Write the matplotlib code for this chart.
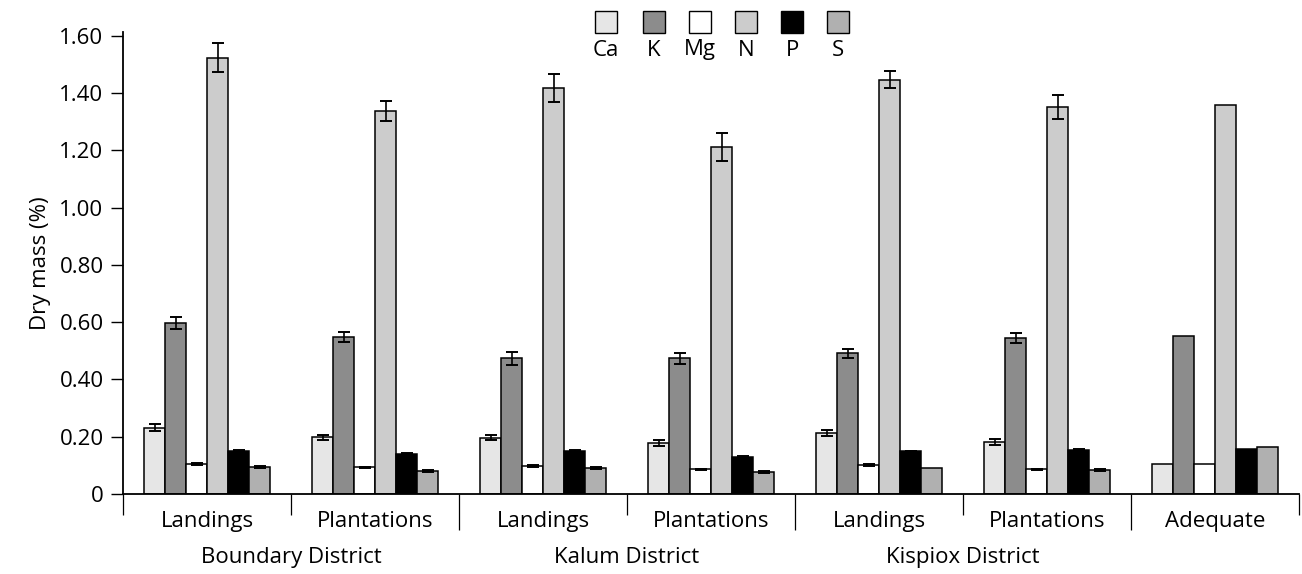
import matplotlib
matplotlib.use("Agg")
import matplotlib.pyplot as plt
from matplotlib.patches import Rectangle
import numpy as np

plt.rcParams['font.family'] = ['Open Sans', 'DejaVu Sans']

# Sites (sub-groups) and their districts
sites = ["Landings", "Plantations", "Landings", "Plantations",
         "Landings", "Plantations", "Adequate"]
districts = ["Boundary District", "Kalum District", "Kispiox District"]

nutrients = ["Ca", "K", "Mg", "N", "P", "S"]
colors = ["#e6e6e6", "#8c8c8c", "#ffffff", "#cccccc", "#000000", "#b0b0b0"]

# Foliar nutrient concentration (% dry mass), one list per site
ca = [0.232, 0.198, 0.197, 0.178, 0.212, 0.182, 0.104]
k = [0.598, 0.548, 0.474, 0.474, 0.492, 0.545, 0.551]
mg = [0.104, 0.093, 0.099, 0.087, 0.101, 0.087, 0.104]
n = [1.524, 1.338, 1.417, 1.213, 1.447, 1.352, 1.360]
p = [0.149, 0.139, 0.149, 0.130, 0.149, 0.154, 0.156]
s = [0.094, 0.080, 0.090, 0.077, 0.092, 0.084, 0.165]

# Standard errors (no error for the adequate reference levels)
ca_err = [0.012, 0.008, 0.008, 0.012, 0.010, 0.011, 0.0]
k_err = [0.020, 0.018, 0.023, 0.019, 0.016, 0.018, 0.0]
mg_err = [0.003, 0.003, 0.003, 0.002, 0.003, 0.002, 0.0]
n_err = [0.051, 0.036, 0.049, 0.049, 0.030, 0.043, 0.0]
p_err = [0.003, 0.003, 0.003, 0.003, 0.002, 0.003, 0.0]
s_err = [0.004, 0.004, 0.004, 0.004, 0.0, 0.004, 0.0]

yticks = [0, 0.2, 0.4, 0.6, 0.8, 1.0, 1.2, 1.4, 1.6]
ytick_labels = ["0", "0.20", "0.40", "0.60", "0.80", "1.00", "1.20", "1.40", "1.60"]

values = [ca, k, mg, n, p, s]
errors = [ca_err, k_err, mg_err, n_err, p_err, s_err]

FS = 16
W, H = 1302, 574
fig = plt.figure(figsize=(W / 100, H / 100), dpi=100)
ax = fig.add_axes([123 / W, (H - 494) / H, (1299 - 123) / W, (494 - 31.7) / H])

bar_w = 0.125
x0 = np.arange(len(sites))
for j, (vals, errs, col) in enumerate(zip(values, errors, colors)):
    xs = x0 + bar_w + bar_w / 2 + j * bar_w
    ax.bar(xs, vals, width=bar_w, color=col, edgecolor="black", linewidth=1.1, zorder=2)
    errs = np.array(errs)
    mask = errs > 0
    ax.errorbar(xs[mask], np.array(vals)[mask], yerr=errs[mask], fmt="none",
                ecolor="black", elinewidth=1.2, capsize=4, capthick=1.4, zorder=3)

ax.set_xlim(0, len(sites))
ax.set_ylim(0, 1.615)
ax.set_yticks(yticks)
ax.set_yticklabels(ytick_labels, fontsize=FS)
ax.tick_params(axis="y", direction="out", length=9, width=1, pad=5, colors="black")
ax.set_ylabel("Dry mass (%)", fontsize=FS, labelpad=6)

# Boundary marks below the axis: short between sites, long between districts
ax.set_xticks([0, 1, 3, 5, 7])
ax.set_xticks([2, 4, 6], minor=True)
ax.set_xticklabels([])
ax.tick_params(axis="x", which="major", direction="out", length=15, width=0.9)
ax.tick_params(axis="x", which="minor", direction="out", length=26, width=0.9)

for sp in ("top", "right"):
    ax.spines[sp].set_visible(False)
ax.spines["left"].set_linewidth(1.3)
ax.spines["bottom"].set_linewidth(1.3)

for i, name in enumerate(sites):
    ax.annotate(name, xy=(i + 0.5, 0), xycoords=("data", "axes fraction"),
                xytext=(0, -19.5), textcoords="offset points",
                ha="center", va="center", fontsize=FS)
for d, name in enumerate(districts):
    ax.annotate(name, xy=(2 * d + 1, 0), xycoords=("data", "axes fraction"),
                xytext=(0, -45.5), textcoords="offset points",
                ha="center", va="center", fontsize=FS)

# Legend: swatches in a row with their labels underneath
sw = 22
centers = [606, 654, 700, 746, 792, 838]
for cx, col, lab in zip(centers, colors, nutrients):
    fig.add_artist(Rectangle(((cx - sw / 2) / W, (H - 33) / H), sw / W, sw / H,
                             transform=fig.transFigure, facecolor=col,
                             edgecolor="black", linewidth=1.0))
    fig.text(cx / W, (H - 50) / H, lab, ha="center", va="center", fontsize=FS)

fig.savefig("out.png", dpi=100)
